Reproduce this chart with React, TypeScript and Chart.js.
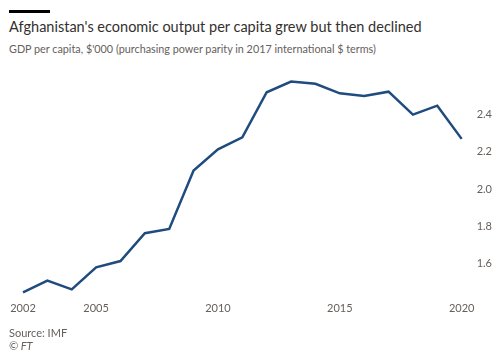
import React, { useEffect, useRef } from "react";
import { Chart, registerables } from "chart.js";

Chart.register(...registerables);

const years = [2002, 2003, 2004, 2005, 2006, 2007, 2008, 2009, 2010, 2011, 2012, 2013, 2014, 2015, 2016, 2017, 2018, 2019, 2020];
const gdpPerCapita = [1.447, 1.51, 1.463, 1.581, 1.615, 1.764, 1.787, 2.1, 2.214, 2.278, 2.52, 2.577, 2.565, 2.514, 2.5, 2.523, 2.4, 2.448, 2.27];
const xTicks = [2002, 2005, 2010, 2015, 2020];
const yTicks = [1.6, 1.8, 2.0, 2.2, 2.4];

const title = "Afghanistan's economic output per capita grew but then declined";
const subtitle = "GDP per capita, $'000 (purchasing power parity in 2017 international $ terms)";
const source = "Source: IMF";
const credit = "© FT";

const FONT = "Lato, 'Noto Sans', sans-serif";

export default function App() {
  const ref = useRef<HTMLCanvasElement | null>(null);
  useEffect(() => {
    if (!ref.current) return;
    const chart = new Chart(ref.current, {
      type: "line",
      data: {
        datasets: [
          {
            data: years.map((y, i) => ({ x: y, y: gdpPerCapita[i] })),
            borderColor: "#1f4b7e",
            borderWidth: 2.5,
            pointRadius: 0,
            tension: 0,
            clip: false as any,
          },
        ],
      },
      options: {
        animation: false,
        responsive: false,
        maintainAspectRatio: false,
        layout: { padding: { top: 68, left: 23, right: 1, bottom: 42 } },
        plugins: { legend: { display: false }, tooltip: { enabled: false } },
        scales: {
          x: {
            type: "linear",
            min: 2002,
            max: 2020,
            offset: false,
            afterBuildTicks: (s: any) => {
              s.ticks = xTicks.map((v) => ({ value: v }));
            },
            grid: { display: false },
            border: { display: false },
            ticks: {
              padding: 2,
              color: "#66605c",
              font: { family: FONT, size: 11 },
              autoSkip: false,
              maxRotation: 0,
              callback: (v: any) => String(v),
            },
          },
          y: {
            position: "right",
            min: 1.45,
            max: 2.65,
            afterBuildTicks: (s: any) => {
              s.ticks = yTicks.map((v) => ({ value: v }));
            },
            grid: { display: false },
            border: { display: false },
            ticks: {
              padding: 7,
              color: "#66605c",
              font: { family: FONT, size: 11 },
              callback: (v: any) => Number(v).toFixed(1),
            },
          },
        },
      },
    });
    return () => chart.destroy();
  }, []);

  return (
    <div style={{ position: "absolute", left: 0, top: 0, width: 500, height: 359, background: "#fff", fontFamily: FONT, overflow: "hidden" }}>
      <div style={{ position: "absolute", left: 9, top: 10, width: 41, height: 3, background: "#000" }} />
      <div style={{ position: "absolute", left: 9, top: 17, fontSize: 14.5, color: "#33302e", whiteSpace: "nowrap", lineHeight: "20px" }}>{title}</div>
      <div style={{ position: "absolute", left: 9, top: 41, fontSize: 10.8, color: "#66605c", whiteSpace: "nowrap", lineHeight: "16px" }}>{subtitle}</div>
      <canvas ref={ref} width={500} height={359} style={{ position: "absolute", left: 0, top: 0 }} />
      <div style={{ position: "absolute", left: 9, top: 326, fontSize: 11, color: "#66605c", lineHeight: "14px" }}>{source}</div>
      <div style={{ position: "absolute", left: 9, top: 339, fontSize: 11, color: "#66605c", fontStyle: "italic", lineHeight: "14px" }}>{credit}</div>
    </div>
  );
}
